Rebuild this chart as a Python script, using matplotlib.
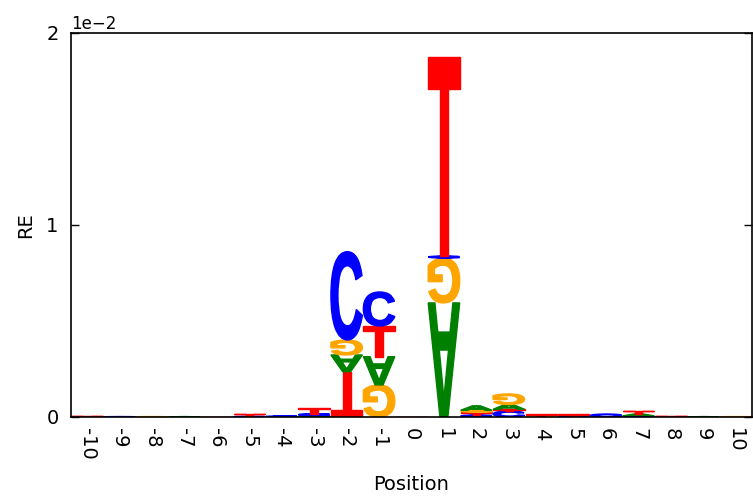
import matplotlib
matplotlib.use('Agg')
import matplotlib.pyplot as plt
from matplotlib.textpath import TextPath
from matplotlib.patches import PathPatch
from matplotlib.font_manager import FontProperties
from matplotlib.transforms import Affine2D

positions = list(range(-10, 11))

# stacks per position, bottom to top: (letter, height, flipped)
stacks = {
    -10: [('T', 0.00003, False)],
    -9: [('C', 0.00002, False)],
    -8: [('G', 0.00002, False)],
    -7: [('A', 0.00002, False)],
    -6: [('T', 0.00002, False)],
    -5: [('C', 0.00003, False), ('T', 0.00015, False)],
    -4: [('C', 0.00005, False)],
    -3: [('G', 0.00005, False), ('A', 0.00002, False), ('C', 0.0001, False), ('T', 0.0003, False)],
    -2: [('T', 0.00236, True), ('A', 0.00087, True), ('G', 0.00078, True), ('C', 0.0046, False)],
    -1: [('G', 0.00167, True), ('A', 0.00147, True), ('T', 0.0016, False), ('C', 0.00177, False)],
    0: [('T', 0.00002, False)],
    1: [('A', 0.00594, True), ('G', 0.00234, True), ('C', 0.0001, False), ('T', 0.01036, False)],
    2: [('C', 0.0001, False), ('T', 0.00015, False), ('G', 0.0001, False), ('A', 0.00023, False)],
    3: [('C', 0.0003, False), ('T', 0.0001, False), ('A', 0.00025, False), ('G', 0.00055, True)],
    4: [('G', 0.00003, False), ('T', 0.0001, False)],
    5: [('C', 0.00003, False), ('T', 0.0001, False)],
    6: [('C', 0.00015, False)],
    7: [('C', 0.00006, False), ('A', 0.0001, False), ('T', 0.00015, False)],
    8: [('T', 0.00006, False)],
    9: [('A', 0.00002, False)],
    10: [('G', 0.00002, False)],
}

colors = {'A': '#008000', 'C': '#0000ff', 'G': '#ffa500', 'T': '#ff0000'}
fp = FontProperties(family='Liberation Sans', weight='bold')


def draw_letter(ax, letter, x, y, h, flip, width=0.97):
    tp = TextPath((0, 0), letter, size=1, prop=fp)
    bb = tp.get_extents()
    t = Affine2D().translate(-bb.x0, -bb.y0).scale(1.0 / bb.width, 1.0 / bb.height)
    if flip:
        t = t.translate(-0.5, -0.5).scale(-1, -1).translate(0.5, 0.5)
    t = t.scale(width, h).translate(x - width / 2.0, y)
    path = t.transform_path(tp)
    ax.add_patch(PathPatch(path, facecolor=colors[letter], edgecolor=colors[letter],
                           linewidth=1.0))


fig = plt.figure(figsize=(7.53, 4.98), dpi=100)
ax = fig.add_axes([0.0943, 0.1627, 0.9044, 0.7711])

for pos in positions:
    base = 0.0
    for letter, h, flip in stacks[pos]:
        draw_letter(ax, letter, pos, base, h, flip)
        base += h

ax.set_xlim(-10.5, 10.5)
ax.set_ylim(0, 0.02)
ax.set_xticks(positions)
ax.set_xticklabels([str(p) for p in positions], rotation=-90, fontsize=14)
ax.set_yticks([0, 0.01, 0.02])
ax.ticklabel_format(axis='y', style='sci', scilimits=(0, 0))
ax.yaxis.get_offset_text().set_fontsize(12)
ax.tick_params(axis='y', direction='in', length=6, width=1, labelsize=14, right=True, pad=9)
ax.tick_params(axis='x', length=0, pad=8)
for s in ax.spines.values():
    s.set_linewidth(1.2)
ax.set_xlabel('Position', fontsize=14, labelpad=11)
ax.set_ylabel('RE', fontsize=14, labelpad=8)

fig.savefig('out.png', dpi=100)
